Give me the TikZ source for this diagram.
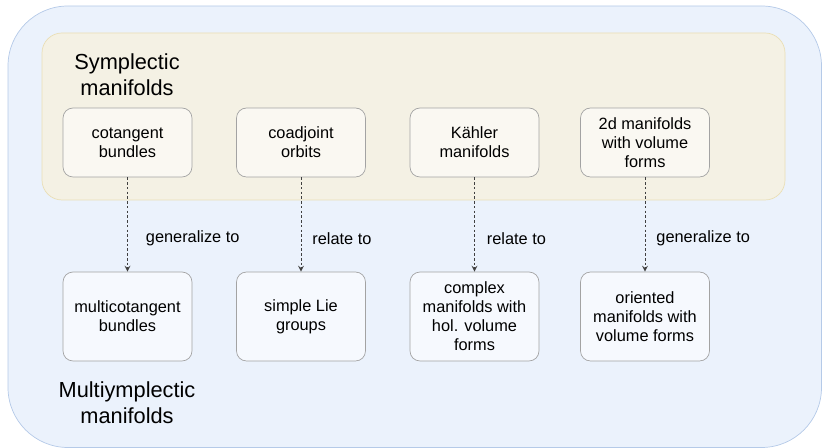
\documentclass[tikz,border=0pt]{standalone}
\usepackage{fontspec}
\setmainfont{Liberation Sans}
\usepackage{xcolor}
\usetikzlibrary{arrows}
\usetikzlibrary{shapes}

\definecolor{outerfill}{HTML}{EBF2FC}
\definecolor{outerline}{HTML}{B5CAE8}
\definecolor{innerfill}{HTML}{F4F1E4}
\definecolor{innerline}{HTML}{EADFB6}
\definecolor{topfill}{HTML}{FAF8F2}
\definecolor{botfill}{HTML}{F6F9FE}
\definecolor{boxline}{HTML}{A3A3A3}

\tikzset{
	box/.style={draw=boxline, rounded corners=0.2cm, align=center, inner sep=2pt,
		minimum width=2.58cm, font=\fontsize{9.3}{10.8}\selectfont},
	topbox/.style={box, fill=topfill, minimum height=1.38cm},
	botbox/.style={box, fill=botfill, minimum height=1.78cm},
	title/.style={align=center, font=\fontsize{12.4}{14.7}\selectfont},
	link/.style={->, >=stealth, draw=darkgray, dash pattern=on 1.5pt off 1.2pt, line width=0.5pt},
	linklabel/.style={pos=0.65, anchor=west, inner sep=0pt, font=\fontsize{9.3}{10.8}\selectfont}
}

\begin{document}
\begin{tikzpicture}[x=0.02cm, y=-0.02cm]

	\useasboundingbox (0,0) rectangle (822,448);

	%outer area (multisymplectic)
	\draw[fill=outerfill, draw=outerline, rounded corners=1.2cm] (8,6) rectangle (821.5,447.5);

	%inner area (symplectic)
	\draw[fill=innerfill, draw=innerline, rounded corners=0.4cm] (42,33) rectangle (785,200);

	% Titles
	\node[title] (symp) at (127, 75) {Symplectic\\manifolds};
	\node[title] (multi) at (127, 403) {Multiymplectic\\manifolds};

	% top row
	\node[topbox] (cot) at (127.5, 142.5) {cotangent\\bundles};
	\node[topbox] (coad) at (301, 142.5) {coadjoint\\orbits};
	\node[topbox] (kah) at (474.5, 142.5) {Kähler\\manifolds};
	\node[topbox] (twod) at (645, 142.5) {2d manifolds\\with volume\\forms};

	% bottom row
	\node[botbox] (mcot) at (127.5, 316.5) {multicotangent\\bundles};
	\node[botbox] (lie) at (301, 316.5) {simple Lie\\groups};
	\node[botbox] (cplx) at (474.5, 316.5) {complex\\manifolds with\\hol. volume\\forms};
	\node[botbox] (orient) at (645, 316.5) {oriented\\manifolds with\\volume forms};

	% Arrows
	\draw[link] (cot) -- node[linklabel, xshift=0.36cm] {generalize to} (mcot);
	\draw[link] (coad) -- node[linklabel, xshift=0.22cm] {relate to} (lie);
	\draw[link] (kah) -- node[linklabel, xshift=0.24cm] {relate to} (cplx);
	\draw[link] (twod) -- node[linklabel, xshift=0.22cm] {generalize to} (orient);
\end{tikzpicture}
\end{document}
